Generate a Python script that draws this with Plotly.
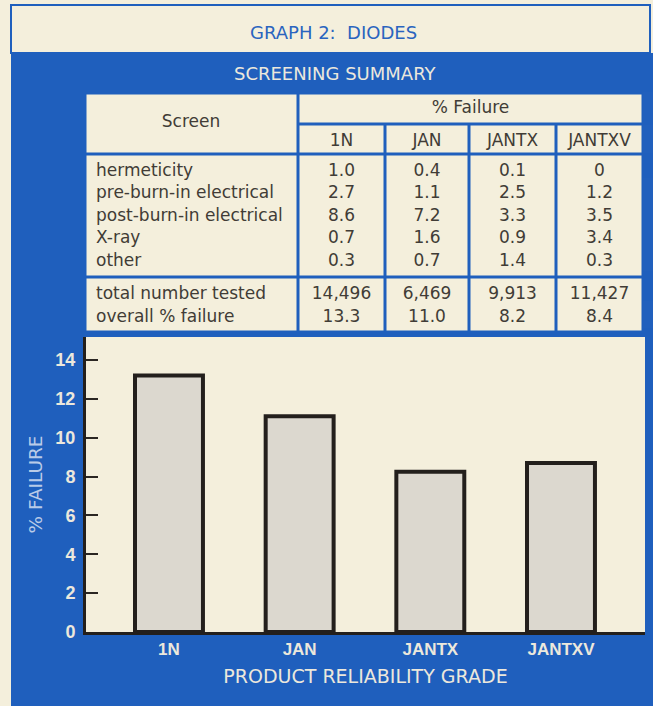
import plotly.graph_objects as go

# data
grades = ["1N", "JAN", "JANTX", "JANTXV"]
screens = ["hermeticity", "pre-burn-in electrical", "post-burn-in electrical", "X-ray", "other"]
fail_1n = [1.0, 2.7, 8.6, 0.7, 0.3]
fail_jan = [0.4, 1.1, 7.2, 1.6, 0.7]
fail_jantx = [0.1, 2.5, 3.3, 0.9, 1.4]
fail_jantxv = [0, 1.2, 3.5, 3.4, 0.3]
footer_labels = ["total number tested", "overall % failure"]
total_tested = [14496, 6469, 9913, 11427]
overall_failure = [13.3, 11.0, 8.2, 8.4]
# bar heights as drawn in the graph
bar_heights = [13.2, 11.1, 8.25, 8.7]
y_ticks = [0, 2, 4, 6, 8, 10, 12, 14]

W, H = 653, 706
CREAM = "#f4efdc"
BLUE = "#1f5fbd"
INK = "#413c36"
LIGHT = "#ece8dc"
FONT = "DejaVu Sans"
BOLD_FONT = "Liberation Sans"
CLEAR = "rgba(0,0,0,0)"

# table grid (pixels)
col_edges = [85, 298, 385, 469, 556, 643]
row_edges = [93, 124, 154, 277, 332]


def px(x):
    return x / W


def py(y):
    return 1 - y / H


def fmt(v):
    return "0" if v == 0 else f"{v:.1f}"


def cream_box(x0, y0, x1, y1, gap=1.5):
    return dict(type="rect", xref="paper", yref="paper",
                x0=px(x0 + gap), x1=px(x1 - gap), y0=py(y1 - gap), y1=py(y0 + gap),
                fillcolor=CREAM, line=dict(width=0), layer="below")


cell_font = dict(family=FONT, size=17, color=INK)


def text_table(x0, x1, top, rowh, values, widths=None, align="center"):
    # first row goes in the header so no empty header block is drawn
    nrows = len(values[0])
    head = [col[0] for col in values]
    rest = [list(col[1:]) for col in values]
    fig.add_trace(go.Table(
        domain=dict(x=[px(x0), px(x1)], y=[py(top + rowh * nrows + 4), py(top)]),
        columnwidth=widths,
        header=dict(values=head, height=rowh, align=align, font=cell_font,
                    fill=dict(color=CLEAR), line=dict(width=0)),
        cells=dict(values=rest, height=rowh, align=align, font=cell_font,
                   fill=dict(color=CLEAR), line=dict(width=0)),
    ))


fig = go.Figure()

fig.add_trace(go.Bar(
    x=grades, y=bar_heights, width=0.52,
    marker=dict(color="#dcd8cf", line=dict(color="#231f1c", width=4)),
    hoverinfo="skip",
))

# table text
widths = [col_edges[i + 1] - col_edges[i] for i in range(5)]
body_cols = [screens] + [[fmt(v) for v in c] for c in (fail_1n, fail_jan, fail_jantx, fail_jantxv)]
foot_cols = [footer_labels] + [[f"{total_tested[i]:,}", f"{overall_failure[i]:.1f}"] for i in range(4)]
aligns = ["left", "center", "center", "center", "center"]

text_table(85, 298, 106, 24, [["Screen"]])
text_table(298, 643, 92, 24, [["% Failure"]])
text_table(298, 643, 125, 24, [[g] for g in grades], widths[1:])
text_table(88, 643, 155, 22.5, body_cols, [widths[0] - 3] + widths[1:], aligns)
text_table(88, 643, 278, 23, foot_cols, [widths[0] - 3] + widths[1:], aligns)

# background panels and table cells
shapes = [
    dict(type="rect", xref="paper", yref="paper", x0=px(11), x1=1, y0=0, y1=py(53),
         fillcolor=BLUE, line=dict(width=0), layer="below"),
    dict(type="rect", xref="paper", yref="paper", x0=px(11), x1=px(650), y0=py(53), y1=py(5),
         fillcolor=CREAM, line=dict(color=BLUE, width=2), layer="below"),
    # cream plot area on top of the blue panel
    dict(type="rect", xref="x domain", yref="y domain", x0=0, x1=1, y0=0, y1=1,
         fillcolor=CREAM, line=dict(width=0), layer="below"),
    cream_box(col_edges[0], row_edges[0], col_edges[1], row_edges[2]),
    cream_box(col_edges[1], row_edges[0], col_edges[5], row_edges[1]),
]
for i in range(5):
    rows = range(2, 4) if i == 0 else range(1, 4)
    for r in rows:
        shapes.append(cream_box(col_edges[i], row_edges[r], col_edges[i + 1], row_edges[r + 1]))

fig.update_layout(
    width=W, height=H, autosize=False,
    margin=dict(l=0, r=0, t=0, b=0),
    paper_bgcolor=CREAM, plot_bgcolor=CREAM,
    showlegend=False,
    shapes=shapes,
    annotations=[
        dict(text="GRAPH 2:  DIODES", x=px(333), y=py(32), xref="paper", yref="paper",
             xanchor="center", yanchor="middle", showarrow=False,
             font=dict(family=FONT, size=18, color="#2a64bf")),
        dict(text="SCREENING SUMMARY", x=px(335), y=py(73), xref="paper", yref="paper",
             xanchor="center", yanchor="middle", showarrow=False,
             font=dict(family=FONT, size=18, color=LIGHT)),
    ],
    xaxis=dict(
        domain=[px(86), px(645)], range=[-0.635, 3.643], type="category", automargin=False,
        showline=True, linecolor="#231f1c", linewidth=3, showgrid=False, zeroline=False,
        ticks="", ticklabelstandoff=0,
        tickfont=dict(family=BOLD_FONT, size=17, color=LIGHT, weight="bold"),
        title=dict(text="PRODUCT RELIABILITY GRADE", standoff=12,
                   font=dict(family=FONT, size=19, color=LIGHT)),
    ),
    yaxis=dict(
        domain=[py(632), py(337)], range=[0, 15.18], automargin=False,
        showline=True, linecolor="#231f1c", linewidth=3, showgrid=False, zeroline=False,
        tickvals=y_ticks, ticks="inside", ticklen=12, tickwidth=2, tickcolor="#2a2622",
        ticklabelstandoff=4,
        tickfont=dict(family=BOLD_FONT, size=18, color=LIGHT, weight="bold"),
        title=dict(text="% FAILURE", standoff=8,
                   font=dict(family=FONT, size=18.5, color="#b9cbe8")),
    ),
)

fig.write_html("out.html", config={"displayModeBar": False},
               post_script="document.body.style.margin='0';")
